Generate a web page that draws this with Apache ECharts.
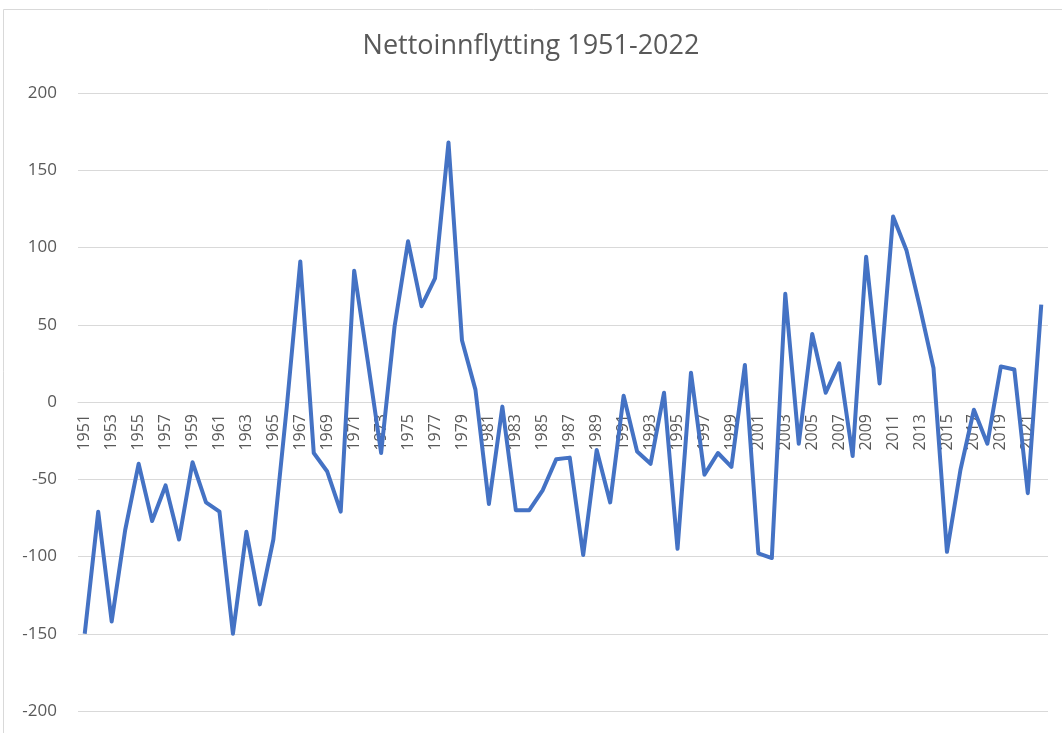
<!DOCTYPE html>
<html>
<head>
<meta charset="utf-8">
<script src="https://cdn.jsdelivr.net/npm/echarts@6/dist/echarts.min.js"></script>
<style>
html,body{margin:0;padding:0;background:#fff;}
#c{width:1062px;height:733px;}
</style>
</head>
<body>
<div id="c"></div>
<script>
var years = [];
for (var y = 1951; y <= 2022; y++) years.push(String(y));

var netMigration = [
  -150, -71, -142, -83, -40, -77, -54, -89, -39, -65,
  -71, -150, -84, -131, -89, -3, 91, -33, -45, -71,
  85, 27, -33, 49, 104, 62, 80, 168, 40, 8,
  -66, -3, -70, -70, -57, -37, -36, -99, -31, -65,
  4, -32, -40, 6, -95, 19, -47, -33, -42, 24,
  -98, -101, 70, -27, 44, 6, 25, -35, 94, 12,
  120, 98, 61, 22, -97, -44, -5, -27, 23, 21,
  -59, 63
];

var titleText = 'Nettoinnflytting 1951-2022';
var fontFam = '"Open Sans", "Noto Sans", sans-serif';

var gridTop = 93, gridBottom = 22, chartH = 733;
var yMin = -200, yMax = 200;
var plotH = chartH - gridTop - gridBottom;
var zeroOffset = -plotH * (0 - yMin) / (yMax - yMin);

var chart = echarts.init(document.getElementById('c'));
chart.setOption({
  animation: false,
  backgroundColor: '#fff',
  title: {
    text: titleText,
    left: 'center',
    top: 28,
    textStyle: { fontFamily: fontFam, fontSize: 27, fontWeight: 'normal', color: '#595959' }
  },
  graphic: [{
    type: 'rect',
    shape: { x: 3.5, y: 9.5, width: 1080, height: 760 },
    style: { fill: 'none', stroke: '#d9d9d9', lineWidth: 1 },
    silent: true
  }],
  grid: { left: 78, right: 14, top: gridTop, bottom: gridBottom, containLabel: false, outerBoundsMode: 'none' },
  xAxis: {
    type: 'category',
    data: years,
    boundaryGap: true,
    offset: zeroOffset,
    axisLine: { onZero: false, lineStyle: { color: '#d9d9d9', width: 1 } },
    axisTick: { show: false },
    axisLabel: {
      rotate: 90,
      interval: 1,
      margin: 12,
      color: '#595959',
      fontSize: 16,
      fontFamily: fontFam
    },
    splitLine: { show: false }
  },
  yAxis: {
    type: 'value',
    min: yMin,
    max: yMax,
    interval: 50,
    axisLine: { show: false },
    axisTick: { show: false },
    axisLabel: { color: '#595959', fontSize: 17, fontFamily: fontFam, margin: 21 },
    splitLine: { lineStyle: { color: '#d9d9d9', width: 1 } }
  },
  series: [{
    type: 'line',
    data: netMigration,
    symbol: 'none',
    lineStyle: { color: '#4472C4', width: 4, join: 'round' },
    itemStyle: { color: '#4472C4' }
  }]
});
</script>
</body>
</html>
